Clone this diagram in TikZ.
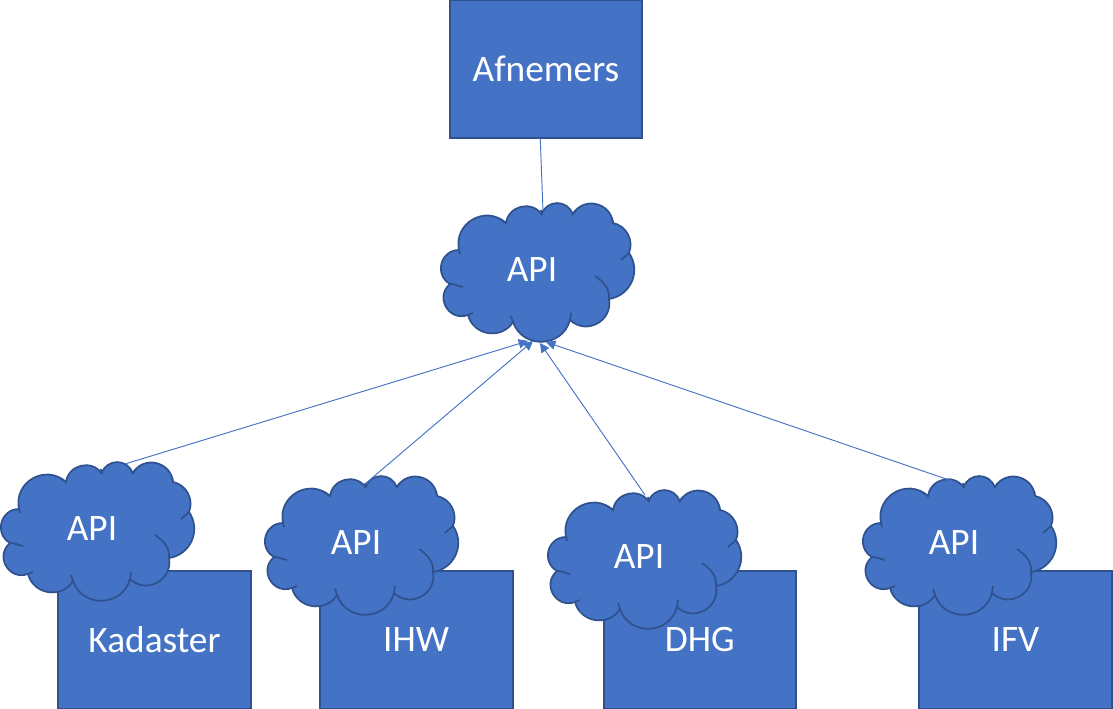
\documentclass[tikz,border=0pt]{standalone}
\usepackage{fontspec}
\setmainfont{Carlito}
\usetikzlibrary{arrows.meta, positioning, calc}
\definecolor{vlak}{HTML}{4472C4}
\definecolor{rand}{HTML}{2F528F}

\begin{document}
\begin{tikzpicture}[
  x=0.75pt, y=0.75pt,
  font=\fontsize{28}{32}\selectfont,
  box/.style   = {rectangle, draw=rand, fill=vlak, line width=1.5pt, text=white,
                  minimum width=144.5pt, minimum height=103.5pt, align=center, outer sep=0pt},
  conn/.style  = {vlak, line width=0.7pt},
  arr/.style   = {-{Triangle[length=7pt, width=7pt]}, vlak, line width=0.7pt},
  pics/apicloud/.style = {code={
    \draw[rand, fill=vlak, line width=1.3pt]
      (65,-20) to[bend left=68,looseness=1.22] (100.7,-11.3)
      to[bend left=72,looseness=1.3] (131.7,-11.3)
      to[bend left=72,looseness=1.3] (172,-20)
      to[bend left=50,looseness=1.03] (188,-50)
      to[bend left=58,looseness=1.12] (168,-96)
      to[bend left=72,looseness=1.3] (129,-117)
      to[bend left=73,looseness=1.3] (72,-119)
      to[bend left=67,looseness=1.2] (27,-112)
      to[bend left=80,looseness=1.45] (9,-81)
      to[bend left=75,looseness=1.35] (18,-47)
      to[bend left=72,looseness=1.3] (65,-20) -- cycle;
    \draw[rand, line width=1.3pt]
      (168,-96) to[out=85,in=-35] (154,-73)
      (188,-50) -- (180,-57)
      (129,-117) -- (130,-110)
      (9,-81) to[out=0,in=170] (22,-84)
      (18,-47) -- (19,-51)
      (27,-112) -- (32,-110)
      (65,-20) -- (59,-16)
      (100.7,-11.3) -- (100,-7)
      (131.7,-11.3) -- (135,-7)
      (172,-20) -- (171,-15)
      (72,-119) -- (70,-113);
    \node[text=white] (-label) at (91,-67) {API};
  }}
]
\useasboundingbox (0,0) rectangle (1113,709);

\node[box] (afnemers) at (546,640) {Afnemers};
\node[box] (kadaster) at (154.5,69) {Kadaster};
\node[box] (ihw) [right=51.75pt of kadaster] {IHW};
\node[box] (dhg) [right=68.25pt of ihw]      {DHG};
\node[box] (ifv) [right=92.25pt of dhg]      {IFV};

\pic (midden) at (441,506) {apicloud};
\pic (wolkk)  at (1,247)   {apicloud};
\pic (wolki)  at (265,233) {apicloud};
\pic (wolkd)  at (548,219) {apicloud};
\pic (wolkf)  at (863,233) {apicloud};

\coordinate (boven) at (543,498);
\coordinate (uitkad) at (125,245);
\coordinate (uitihw) at (365,225);
\coordinate (uitdhg) at (645,214);
\coordinate (uitifv) at (955,227);
\coordinate (inkad) at (528,368);
\coordinate (inihw) at (533,368);
\coordinate (indhg) at (540,366);
\coordinate (inifv) at (546,367);

\draw[conn] ($(afnemers.south west)!0.47!(afnemers.south east)$) -- (boven);
\draw[arr] (uitkad) -- (inkad);
\draw[arr] (uitihw) -- (inihw);
\draw[arr] (uitdhg) -- (indhg);
\draw[arr] (uitifv) -- (inifv);

\end{tikzpicture}
\end{document}
